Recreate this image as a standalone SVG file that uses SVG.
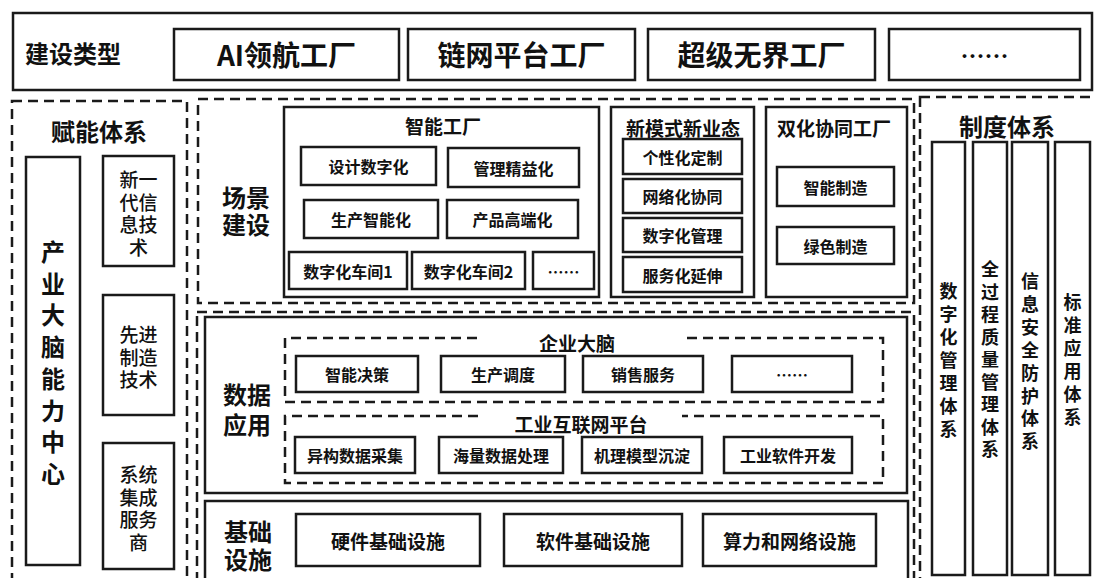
<svg xmlns="http://www.w3.org/2000/svg" width="1094" height="578" viewBox="0 0 1094 578">
<style>
.box{fill:#fff;stroke:#1a1a1a;stroke-width:2.5}
.dash{fill:none;stroke:#1a1a1a;stroke-width:2.5;stroke-dasharray:10 6}
.t{font-family:"Noto Sans CJK SC","Liberation Sans",sans-serif;fill:#111;text-anchor:middle;dominant-baseline:central}
.b{font-weight:bold}
.m{font-weight:500}
.s28{font-size:28px}.s24{font-size:24px}.s19{font-size:19px}.s18{font-size:18px}.s16{font-size:16px}
</style>
<rect width="1094" height="578" fill="#fff"/>
<g id="top-bar">
<rect class="box" x="13" y="13" width="1079" height="77"/>
<text class="t b s24" x="73" y="52">建设类型</text>
<g id="ai-factory"><rect class="box" x="174" y="29" width="225" height="51"/><text class="t b s28" x="286.5" y="54">AI领航工厂</text></g>
<g id="chain-factory"><rect class="box" x="408" y="29" width="227" height="51"/><text class="t b s28" x="521.5" y="54">链网平台工厂</text></g>
<g id="boundless-factory"><rect class="box" x="648" y="29" width="227" height="51"/><text class="t b s28" x="761.5" y="54">超级无界工厂</text></g>
<g id="more-factory"><rect class="box" x="889" y="29" width="191" height="51"/><text class="t b s24" x="984.5" y="54">……</text></g>
</g>
<g id="enabling">
<rect class="dash" x="12" y="101" width="175" height="490"/>
<text class="t b s24" x="99" y="130">赋能体系</text>
<g id="brain-center"><rect class="box" x="26" y="157" width="54" height="408"/>
<text class="t b s24" x="53" y="250"><tspan x="53">产</tspan><tspan x="53" dy="31.7">业</tspan><tspan x="53" dy="31.7">大</tspan><tspan x="53" dy="31.7">脑</tspan><tspan x="53" dy="31.7">能</tspan><tspan x="53" dy="31.7">力</tspan><tspan x="53" dy="31.7">中</tspan><tspan x="53" dy="31.7">心</tspan></text></g>
<g id="new-it"><rect class="box" x="103" y="156" width="71" height="110"/>
<text class="t m s19" x="138.5" y="178"><tspan x="138.5">新一</tspan><tspan x="138.5" dy="22.5">代信</tspan><tspan x="138.5" dy="22.5">息技</tspan><tspan x="138.5" dy="22.5">术</tspan></text></g>
<g id="adv-mfg"><rect class="box" x="103" y="295" width="71" height="120"/>
<text class="t m s19" x="138.5" y="333"><tspan x="138.5">先进</tspan><tspan x="138.5" dy="22.5">制造</tspan><tspan x="138.5" dy="22.5">技术</tspan></text></g>
<g id="integrator"><rect class="box" x="103" y="443" width="71" height="126"/>
<text class="t m s19" x="138.5" y="473"><tspan x="138.5">系统</tspan><tspan x="138.5" dy="22.7">集成</tspan><tspan x="138.5" dy="22.7">服务</tspan><tspan x="138.5" dy="22.7">商</tspan></text></g>
</g>
<g id="scene">
<rect class="dash" x="198" y="99" width="716" height="204"/>
<text class="t b s24" x="246" y="196"><tspan x="246">场景</tspan><tspan x="246" dy="27">建设</tspan></text>
<g id="smart-factory"><rect class="box" x="284" y="107" width="315" height="190"/>
<text class="t b s19" x="443" y="125">智能工厂</text>
<rect class="box" x="301" y="147" width="135" height="38"/><text class="t b s16" x="368.5" y="166">设计数字化</text>
<rect class="box" x="448" y="148" width="131" height="39"/><text class="t b s16" x="513.5" y="167.5">管理精益化</text>
<rect class="box" x="304" y="200" width="134" height="38"/><text class="t b s16" x="371" y="219">生产智能化</text>
<rect class="box" x="447" y="200" width="131" height="38"/><text class="t b s16" x="512.5" y="219">产品高端化</text>
<rect class="box" x="289" y="252" width="118" height="37"/><text class="t b s16" x="348" y="270.5">数字化车间1</text>
<rect class="box" x="412" y="252" width="113" height="37"/><text class="t b s16" x="468.5" y="270.5">数字化车间2</text>
<rect class="box" x="533" y="252" width="61" height="37"/><text class="t b s16" x="563.5" y="270.5">……</text>
</g>
<g id="new-mode"><rect class="box" x="611" y="107" width="143" height="190"/>
<text class="t b s19" x="683" y="127">新模式新业态</text>
<rect class="box" x="623" y="139" width="119" height="35"/><text class="t b s16" x="682.5" y="156.5">个性化定制</text>
<rect class="box" x="623" y="179" width="119" height="34"/><text class="t b s16" x="682.5" y="196">网络化协同</text>
<rect class="box" x="623" y="218" width="119" height="34"/><text class="t b s16" x="682.5" y="235">数字化管理</text>
<rect class="box" x="623" y="257" width="119" height="35"/><text class="t b s16" x="682.5" y="274.5">服务化延伸</text>
</g>
<g id="dual-factory"><rect class="box" x="766" y="107" width="141" height="190"/>
<text class="t b s19" x="834" y="127">双化协同工厂</text>
<rect class="box" x="777" y="167" width="117" height="39"/><text class="t b s16" x="835.5" y="186.5">智能制造</text>
<rect class="box" x="777" y="227" width="117" height="37"/><text class="t b s16" x="835.5" y="245.5">绿色制造</text>
</g>
</g>
<g id="lower">
<rect class="dash" x="197" y="312" width="717" height="290"/>
<g id="data-app"><rect class="box" x="205" y="317" width="702" height="176"/>
<text class="t b s24" x="247" y="393"><tspan x="247">数据</tspan><tspan x="247" dy="30">应用</tspan></text>
<g id="enterprise-brain">
<path class="dash" d="M477,338 H285 V402 H883 V338 H683"/>
<text class="t b s19" x="577" y="342">企业大脑</text>
<rect class="box" x="296" y="356" width="122" height="36"/><text class="t b s16" x="357" y="374">智能决策</text>
<rect class="box" x="441" y="356" width="124" height="36"/><text class="t b s16" x="503" y="374">生产调度</text>
<rect class="box" x="583" y="356" width="120" height="36"/><text class="t b s16" x="643" y="374">销售服务</text>
<rect class="box" x="732" y="356" width="120" height="36"/><text class="t b s16" x="792" y="374">……</text>
</g>
<g id="iiot-platform">
<path class="dash" d="M478,416 H285 V483 H883 V416 H682"/>
<text class="t b s19" x="581" y="423">工业互联网平台</text>
<rect class="box" x="295" y="437" width="120" height="36"/><text class="t b s16" x="355" y="455">异构数据采集</text>
<rect class="box" x="439" y="437" width="124" height="36"/><text class="t b s16" x="501" y="455">海量数据处理</text>
<rect class="box" x="582" y="437" width="120" height="36"/><text class="t b s16" x="642" y="455">机理模型沉淀</text>
<rect class="box" x="724" y="437" width="128" height="36"/><text class="t b s16" x="788" y="455">工业软件开发</text>
</g>
</g>
<g id="infra"><rect class="box" x="205" y="501" width="703" height="95"/>
<text class="t b s24" x="248" y="530"><tspan x="248">基础</tspan><tspan x="248" dy="28">设施</tspan></text>
<rect class="box" x="296" y="514" width="184" height="52"/><text class="t b s19" x="388" y="540">硬件基础设施</text>
<rect class="box" x="504" y="514" width="178" height="52"/><text class="t b s19" x="593" y="540">软件基础设施</text>
<rect class="box" x="703" y="514" width="173" height="52"/><text class="t b s19" x="789.5" y="540">算力和网络设施</text>
</g>
</g>
<g id="system">
<rect class="dash" x="920" y="97" width="185" height="500"/>
<text class="t b s24" x="1007" y="125">制度体系</text>
<g id="sys-digital"><rect class="box" x="932" y="142" width="33" height="433"/>
<text class="t b s18" x="948.5" y="290"><tspan x="948.5">数</tspan><tspan x="948.5" dy="23">字</tspan><tspan x="948.5" dy="23">化</tspan><tspan x="948.5" dy="23">管</tspan><tspan x="948.5" dy="23">理</tspan><tspan x="948.5" dy="23">体</tspan><tspan x="948.5" dy="23">系</tspan></text></g>
<g id="sys-quality"><rect class="box" x="973" y="142" width="34" height="433"/>
<text class="t b s18" x="990" y="268"><tspan x="990">全</tspan><tspan x="990" dy="22.5">过</tspan><tspan x="990" dy="22.5">程</tspan><tspan x="990" dy="22.5">质</tspan><tspan x="990" dy="22.5">量</tspan><tspan x="990" dy="22.5">管</tspan><tspan x="990" dy="22.5">理</tspan><tspan x="990" dy="22.5">体</tspan><tspan x="990" dy="22.5">系</tspan></text></g>
<g id="sys-security"><rect class="box" x="1012" y="142" width="36" height="433"/>
<text class="t b s18" x="1030" y="280"><tspan x="1030">信</tspan><tspan x="1030" dy="22.9">息</tspan><tspan x="1030" dy="22.9">安</tspan><tspan x="1030" dy="22.9">全</tspan><tspan x="1030" dy="22.9">防</tspan><tspan x="1030" dy="22.9">护</tspan><tspan x="1030" dy="22.9">体</tspan><tspan x="1030" dy="22.9">系</tspan></text></g>
<g id="sys-standard"><rect class="box" x="1055" y="142" width="35" height="433"/>
<text class="t b s18" x="1072.5" y="301"><tspan x="1072.5">标</tspan><tspan x="1072.5" dy="23">准</tspan><tspan x="1072.5" dy="23">应</tspan><tspan x="1072.5" dy="23">用</tspan><tspan x="1072.5" dy="23">体</tspan><tspan x="1072.5" dy="23">系</tspan></text></g>
</g>
<g id="connectors"/>
</svg>
